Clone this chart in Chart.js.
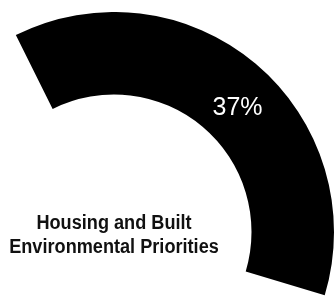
<!DOCTYPE html>
<html>
<head>
<meta charset="utf-8">
<script src="https://cdn.jsdelivr.net/npm/chart.js@4"></script>
<style>
	html, body { margin: 0; padding: 0; background: #fff; }
	body { width: 334px; height: 297px; overflow: hidden; position: relative; }
	#wrap { position: absolute; left: -106px; top: 12px; width: 440px; height: 440px; }
</style>
</head>
<body>
<div id="wrap"><canvas id="gauge" width="440" height="440"></canvas></div>
<script>
const categories = ['Housing and Built Environmental Priorities', 'Other'];
const values = [37, 63];
const centerLines = ['Housing and Built', 'Environmental Priorities'];

const total = values.reduce((a, b) => a + b, 0);
const percentText = Math.round(values[0] / total * 100) + '%';

// draws the % on the black arc and the two-line caption at the middle
const gaugeText = {
	id: 'gaugeText',
	afterDatasetsDraw(chart) {
		const arc = chart.getDatasetMeta(0).data[0];
		const { x, y, startAngle, endAngle, innerRadius, outerRadius } = arc.getProps(['x', 'y', 'startAngle', 'endAngle', 'innerRadius', 'outerRadius'], true);
		const ctx = chart.ctx;
		ctx.save();

		const a = startAngle + 0.537 * (endAngle - startAngle);
		const r = innerRadius + 0.45 * (outerRadius - innerRadius);
		ctx.fillStyle = '#fff';
		ctx.font = '25px "Liberation Sans", Arial, sans-serif';
		ctx.textAlign = 'center';
		ctx.textBaseline = 'middle';
		ctx.fillText(percentText, x + r * Math.cos(a), y + r * Math.sin(a));

		ctx.fillStyle = '#111';
		ctx.font = 'bold 19.5px "Liberation Sans", Arial, sans-serif';
		ctx.textBaseline = 'alphabetic';
		ctx.translate(x, y);
		ctx.scale(0.93, 1);
		ctx.fillText(centerLines[0], 0, -3);
		ctx.fillText(centerLines[1], 0, 20.5);
		ctx.restore();
	}
};

new Chart(document.getElementById('gauge'), {
	type: 'doughnut',
	data: {
		labels: categories,
		datasets: [{
			data: values,
			backgroundColor: ['#000', 'rgba(0,0,0,0)'],
			borderWidth: 0,
			hoverOffset: 0
		}]
	},
	options: {
		responsive: false,
		animation: false,
		cutout: '62.5%',
		rotation: -26.5,
		layout: { padding: 0 },
		plugins: {
			legend: { display: false },
			tooltip: { enabled: false }
		}
	},
	plugins: [gaugeText]
});
</script>
</body>
</html>
